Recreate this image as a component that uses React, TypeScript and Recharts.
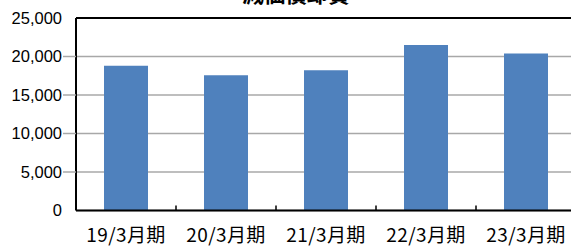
import { Bar, BarChart, CartesianGrid, ReferenceLine, XAxis, YAxis } from "recharts";

const periods = ["19/3月期", "20/3月期", "21/3月期", "22/3月期", "23/3月期"];
const depreciation = [18800, 17550, 18200, 21500, 20380];
const yTicks = [0, 5000, 10000, 15000, 20000, 25000];
const title = "減価償却費";

const data = periods.map((period, i) => ({ period, value: depreciation[i] }));

function XTick(props: any) {
  const { x, y, payload, index, visibleTicksCount } = props;
  const half = payload.offset ?? 50;
  const last = index === (visibleTicksCount ?? periods.length) - 1;
  return (
    <g>
      {!last && <line x1={x + half} x2={x + half} y1={y} y2={y - 5} stroke="#000" strokeWidth={1.5} />}
      <text
        x={x}
        y={y + 31}
        textAnchor="middle"
        fontFamily="'Noto Sans CJK JP'"
        fontSize={19}
        letterSpacing={0.4}
        fill="#000"
      >
        {payload.value}
      </text>
    </g>
  );
}

function YTick(props: any) {
  const { x, y, payload } = props;
  const inner = payload.value !== 0 && payload.value !== 25000;
  return (
    <g>
      {inner && <line x1={x - 13} x2={x} y1={y} y2={y} stroke="#a8a8a8" strokeWidth={1.5} />}
      <text
        x={x - 14}
        y={y + 5.8}
        textAnchor="end"
        fontFamily="'Liberation Sans', Arial, sans-serif"
        fontSize={16.5}
        fill="#000"
      >
        {payload.value.toLocaleString("en-US")}
      </text>
    </g>
  );
}

export default function App() {
  return (
    <div style={{ position: "absolute", left: 0, top: 0, width: 571, height: 246, overflow: "hidden", background: "#fff" }}>
      <BarChart
        width={600}
        height={246}
        data={data}
        margin={{ top: 18, right: 24, bottom: 0, left: 0 }}
        barCategoryGap="28%"
      >
        <CartesianGrid vertical={false} stroke="#a8a8a8" strokeWidth={1.5} />
        <XAxis
          dataKey="period"
          height={35.5}
          tickLine={false}
          tickSize={0}
          tickMargin={0}
          axisLine={{ stroke: "#000", strokeWidth: 2 }}
          tick={<XTick />}
          interval={0}
        />
        <YAxis
          width={76}
          domain={[0, 25000]}
          ticks={yTicks}
          tickLine={false}
          tickSize={0}
          tickMargin={0}
          axisLine={{ stroke: "#000", strokeWidth: 2 }}
          tick={<YTick />}
        />
        <ReferenceLine y={25000} stroke="#000" strokeWidth={2} />
        <Bar dataKey="value" fill="#4f81bd" isAnimationActive={false} />
      </BarChart>
      <svg width={571} height={20} style={{ position: "absolute", left: 0, top: 0 }}>
        <text x={296} y={2} textAnchor="middle" fontFamily="'Noto Sans CJK JP'" fontWeight="bold" fontSize={21.5} fill="#000">
          {title}
        </text>
      </svg>
    </div>
  );
}
